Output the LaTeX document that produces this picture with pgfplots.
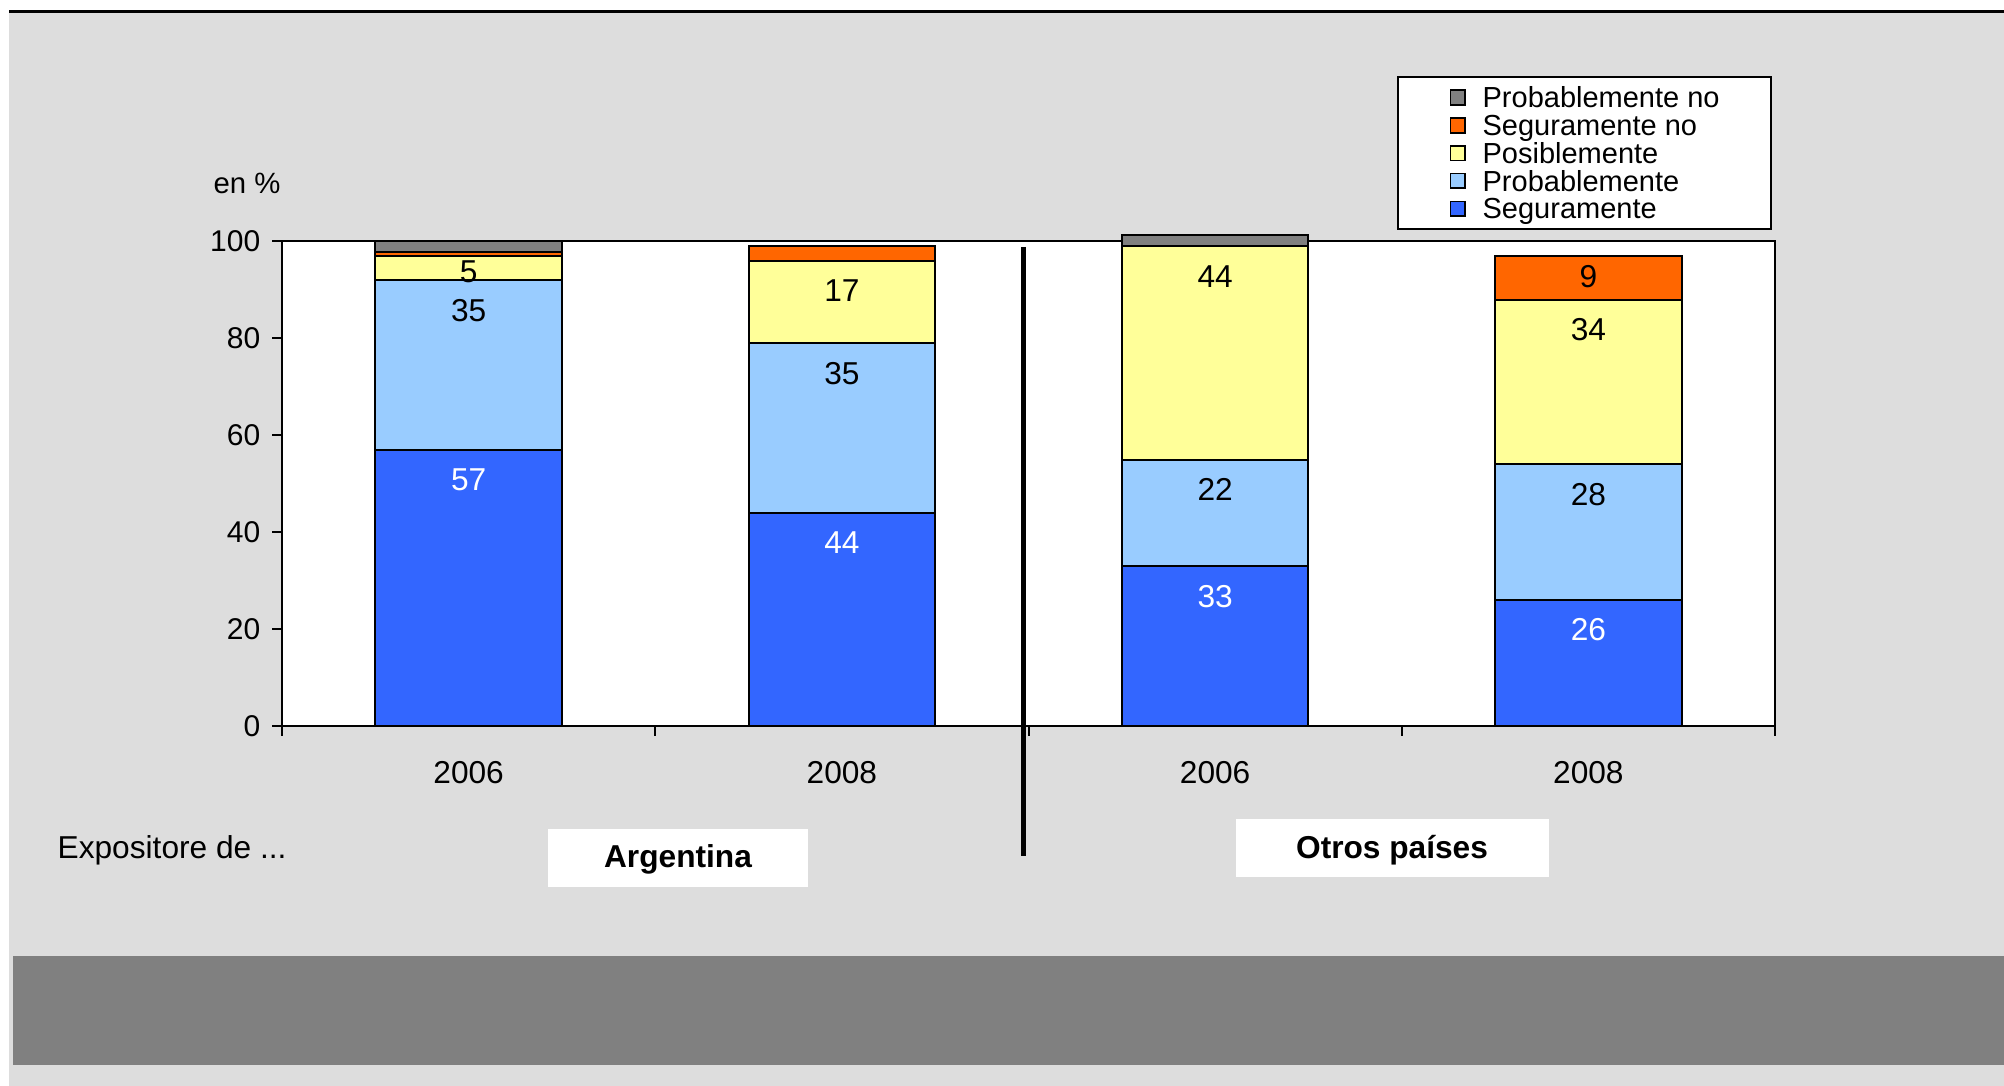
\documentclass[border=0pt]{standalone}
\usepackage{pgfplots}
\pgfplotsset{compat=1.18}
\usepackage{pgfplotstable}
\usepackage{fontspec}
\setmainfont{Liberation Sans}
\definecolor{cSeg}{HTML}{3366FF}
\definecolor{cProb}{HTML}{99CCFF}
\definecolor{cPos}{HTML}{FFFF99}
\definecolor{cSegNo}{HTML}{FF6600}
\definecolor{cProbNo}{HTML}{808080}
\definecolor{bgGray}{HTML}{DDDDDD}
\definecolor{band}{HTML}{808080}
\newcommand\fs{\fontsize{9.5}{11.4}\selectfont}

% stacked segments
\pgfplotstableread{
x y
0 57
1 44
2 33
3 26
}\tSeg
\pgfplotstableread{
x y
0 35
1 35
2 22
3 28
}\tProb
\pgfplotstableread{
x y
0 5
1 17
2 44
3 34
}\tPos
\pgfplotstableread{
x y
0 0.8
1 3
2 0
3 9
}\tSegNo
\pgfplotstableread{
x y
0 2.2
1 0
2 2.3
3 0
}\tProbNo
% data label positions (value shown, placed inside top of each segment)
\pgfplotstableread{
x y lab
0 50.8 57
1 37.8 44
2 26.8 33
3 19.8 26
}\tLabW
\pgfplotstableread{
x y lab
0 85.8 35
1 72.8 35
2 48.8 22
3 47.8 28
0 93.8 5
1 89.8 17
2 92.8 44
3 81.8 34
3 92.8 9
}\tLabK

\begin{document}
\begin{tikzpicture}
\begin{scope}[x=0.3pt,y=0.3pt]
\fill[white] (0,0) rectangle (2004,1086);
\fill[bgGray] (9,0) rectangle (2004,1073);
\fill[black] (9,1073) rectangle (2004,1076);
\fill[band] (13,21) rectangle (2004,130);
\end{scope}
\begin{axis}[
  at={(84.6pt,108pt)}, anchor=south west,
  scale only axis, width=447.9pt, height=145.35pt,
  ybar stacked, stacked ignores zero, bar width=0.5,
  xmin=-0.5, xmax=3.5, ymin=0, ymax=100,
  clip=false,
  axis background/.style={fill=white},
  axis line style={line width=0.6pt, black},
  xtick={0,1,2,3}, xticklabels={2006,2008,2006,2008},
  major x tick style={draw=none},
  minor xtick={-0.5,0.5,1.5,2.5,3.5},
  minor tick length=3pt, major tick length=3pt,
  every tick/.style={line width=0.6pt, black},
  ytick={0,20,40,60,80,100},
  tick pos=left, tick align=outside,
  /pgf/number format/assume math mode=true,
  xticklabel style={font=\fs, yshift=-4.2pt},
  yticklabel style={font=\fontsize{9}{11}\selectfont},
  legend image code/.code={\draw[#1, line width=0.5pt] (0pt,-2.2pt) rectangle (4.4pt,2.2pt);},
  reverse legend,
  legend cell align=left,
  legend style={at={(0.7468,1.3416)}, anchor=north west, draw=black, line width=0.6pt, fill=white,
    inner xsep=15.5pt, inner ysep=2pt, font=\fontsize{8.7}{9}\selectfont,
    nodes={inner sep=0pt, text height=7.2pt, text depth=1.14pt},
    column sep=5pt, row sep=0pt},
]
\addplot[fill=cSeg, draw=black, line width=0.6pt] table[x=x, y=y] {\tSeg};
\addlegendentry{Seguramente}
\addplot[fill=cProb, draw=black, line width=0.6pt] table[x=x, y=y] {\tProb};
\addlegendentry{Probablemente}
\addplot[fill=cPos, draw=black, line width=0.6pt] table[x=x, y=y] {\tPos};
\addlegendentry{Posiblemente}
\addplot[fill=cSegNo, draw=black, line width=0.6pt] table[x=x, y=y] {\tSegNo};
\addlegendentry{Seguramente no}
\addplot[fill=cProbNo, draw=black, line width=0.6pt] table[x=x, y=y] {\tProbNo};
\addlegendentry{Probablemente no}
\draw[line width=1.4pt, black] (axis cs:1.487,98.9) -- (axis cs:1.487,-26.8);
\end{axis}
% overlay axis for data labels
\begin{axis}[
  at={(84.6pt,108pt)}, anchor=south west,
  scale only axis, width=447.9pt, height=145.35pt,
  xmin=-0.5, xmax=3.5, ymin=0, ymax=100,
  hide axis, clip=false,
]
\addplot[only marks, mark=none, point meta=explicit symbolic, nodes near coords,
  every node near coord/.style={anchor=center, text=white, font=\fs, inner sep=0pt}]
  table[x=x, y=y, meta=lab] {\tLabW};
\addplot[only marks, mark=none, point meta=explicit symbolic, nodes near coords,
  every node near coord/.style={anchor=center, text=black, font=\fs, inner sep=0pt}]
  table[x=x, y=y, meta=lab] {\tLabK};
\end{axis}
\begin{scope}[x=0.3pt,y=0.3pt]
\node[anchor=base west, font=\fontsize{8.8}{10}\selectfont, inner sep=0pt] at (213,892) {en \%};
\node[anchor=base west, font=\fs, inner sep=0pt] at (57,227) {Expositore de ...};
\fill[white] (548,199) rectangle (808,257);
\node[anchor=base, font=\fs\bfseries, inner sep=0pt] at (678,218) {Argentina};
\fill[white] (1236,209) rectangle (1549,267);
\node[anchor=base, font=\fs\bfseries, inner sep=0pt] at (1392,227) {Otros países};
\end{scope}
\pgfresetboundingbox
\path[use as bounding box] (0,0) rectangle (601.2pt,325.8pt);
\end{tikzpicture}
\end{document}
